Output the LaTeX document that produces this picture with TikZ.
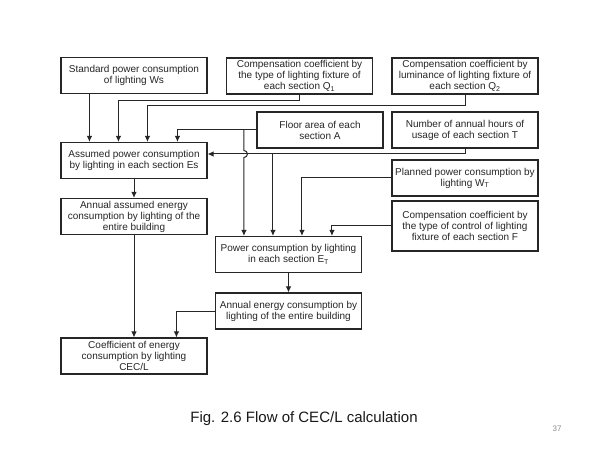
\documentclass[tikz,border=0pt]{standalone}
\usepackage{fontspec}
\setmainfont{Liberation Sans}
\usetikzlibrary{arrows.meta}

\begin{document}
\begin{tikzpicture}[x=1bp,y=-1bp,
  flowbox/.style={draw=black!85, line width=1.1bp, minimum width=146bp, minimum height=36bp,
    inner sep=1bp, align=center, text=black!85, font=\fontsize{10bp}{11bp}\selectfont},
  flowarrow/.style={draw=black!85, line width=1bp, -{Latex[length=6bp,width=5.5bp]}}]
  \useasboundingbox (0,0) rectangle (600,450);
  \fill[white] (0,0) rectangle (600,450);

  \node[flowbox] (ws) at (134,75.5) {Standard power consumption\\of lighting Ws};
  \node[flowbox] (qone) at (299.5,76) {Compensation coefficient by\\the type of lighting fixture of\\each section Q\textsubscript{1}};
  \node[flowbox] (qtwo) at (465,76) {Compensation coefficient by\\luminance of lighting fixture of\\each section Q\textsubscript{2}};
  \node[flowbox, minimum width=126bp] (area) at (320,130) {Floor area of each\\section A};
  \node[flowbox] (hours) at (465,130) {Number of annual hours of\\usage of each section T};
  \node[flowbox] (es) at (134,160.5) {Assumed power consumption\\by lighting in each section Es};
  \node[flowbox] (wt) at (465,178) {Planned power consumption by\\lighting W\textsubscript{T}};
  \node[flowbox] (annes) at (134,216.5) {Annual assumed energy\\consumption by lighting of the\\entire building};
  \node[flowbox, minimum height=50bp] (ctrl) at (465,226) {Compensation coefficient by\\the type of control of lighting\\fixture of each section F};
  \node[flowbox] (et) at (288.5,254.5) {Power consumption by lighting\\in each section E\textsubscript{T}};
  \node[flowbox] (annet) at (288.5,311) {Annual energy consumption by\\lighting of the entire building};
  \node[flowbox] (cecl) at (134,356) {Coefficient of energy\\consumption by lighting\\CEC/L};

  \foreach \i/\d in {1/29,2/58,3/87,4/117}{
    \coordinate (es\i) at ([xshift=\d bp]es.north west);
    \coordinate (et\i) at ([xshift=\d bp]et.north west);
  }
  \coordinate (tbus) at ([yshift=6.5bp]es.east);

  \draw[flowarrow] (ws.south -| es1) -- (es1);
  \draw[flowarrow] (qone.south) -- ++(0,6) -| (es2);
  \draw[flowarrow] (qtwo.south) -- ++(0,11) -| (es3);
  \draw[flowarrow] (area.west) -| (es4);
  \draw[flowarrow] (area.west -| et1) -- ++(0,20.5) arc(-90:90:3.5) -- (et1);
  \draw[flowarrow] (hours.south) |- (tbus);
  \draw[flowarrow] (tbus -| et2) -- (et2);
  \draw[flowarrow] (wt.west) -| (et3);
  \draw[flowarrow] (ctrl.west) -| (et4);
  \draw[flowarrow] (es.south) -- (annes.north);
  \draw[flowarrow] (et.south) -- (annet.north);
  \draw[flowarrow] (annes.south) -- (cecl.north);
  \draw[flowarrow] (annet.west) -| ([xshift=116bp]cecl.north west);

  \node[text=black!90, font=\fontsize{15bp}{17bp}\selectfont] (caption) at (304,419) {Fig. 2.6 Flow of CEC/L calculation};
  \node[text=black!45, font=\fontsize{8bp}{9bp}\selectfont] (pagenum) at (557,429) {37};
\end{tikzpicture}
\end{document}
